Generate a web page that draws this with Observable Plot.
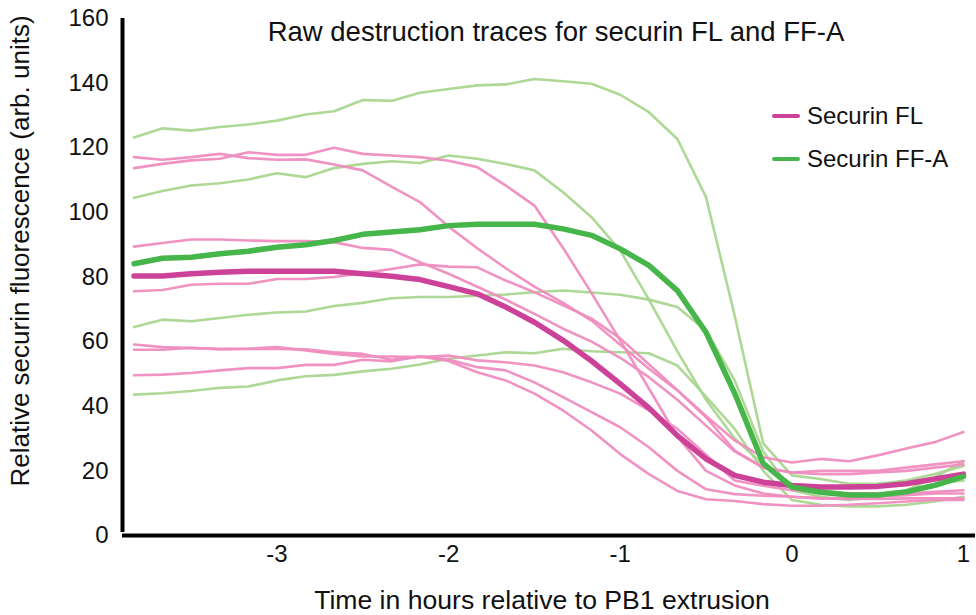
<!DOCTYPE html>
<html>
<head>
<meta charset="utf-8">
<script src="https://cdn.jsdelivr.net/npm/d3@7"></script>
<script src="https://cdn.jsdelivr.net/npm/@observablehq/plot@0.6"></script>
<style>
  html, body { margin: 0; padding: 0; background: #fff; }
  #wrap { position: relative; width: 976px; height: 615px; font-family: "Liberation Sans", Arial, sans-serif; }
  #legend { position: absolute; left: 772px; top: 94px; font-size: 24px; color: #111; }
  .item { display: flex; align-items: center; height: 43px; }
  .swatch { width: 28px; height: 4px; border-radius: 2px; margin-right: 7px; }
</style>
</head>
<body>
<div id="wrap"></div>
<script>
// Time in hours relative to PB1 extrusion (10-minute frames)
const time = [-3.833,-3.667,-3.5,-3.333,-3.167,-3,-2.833,-2.667,-2.5,-2.333,-2.167,-2,-1.833,-1.667,-1.5,-1.333,-1.167,-1,-0.833,-0.667,-0.5,-0.333,-0.167,0,0.167,0.333,0.5,0.667,0.833,1];

// Securin FL individual traces
const fl1 = [117.1,116.3,117.1,118.1,116.8,116.3,116.4,114.8,113,108,103.2,95.6,88.9,82.7,77,72,66.5,59,51.6,44.9,36.6,26.3,21,19.5,19,19,19.5,20,21,22];
const fl2 = [113.7,115,116.1,116.6,118.6,117.8,117.8,120,118.1,117.6,117.1,116,114,108.3,102.1,89,75,60.4,45.5,30.6,20,15.5,13,12,11.5,11.5,12,12.5,13,13];
const fl3 = [89.4,90.5,91.6,91.6,91.3,91.1,91.1,90.8,89,88.4,84.6,81,77,73,68.6,64,60,55,49,42,34,26,21,19.5,20,20,20,21,22,23];
const fl4 = [75.6,76,77.6,77.9,77.9,79.4,79.4,80,81.2,82.5,83.9,83.2,83,78.9,75.3,71.2,67.1,61,53,45,37,29.4,24.2,22.6,23.7,23,24.8,26.9,28.9,32];
const fl5 = [59.1,58.3,58,57.8,57.8,58.3,57.3,56.2,55.4,55.4,55.2,55.7,54.2,53.6,52.6,50.5,47.4,43.9,38.7,33,25,17,15.4,14,13.5,13,13,13,13.5,14];
const fl6 = [57.5,57.5,58.1,57.6,57.7,57.7,57.6,56.7,56.2,54.4,55.4,54.5,52.1,51.1,47.4,42.8,38.2,33.5,27.3,20,14.3,12.8,12.3,12,11.5,11.3,11.3,11.5,11.5,11.5];
const fl7 = [49.6,49.8,50.3,51.1,51.8,51.8,52.8,52.8,54.4,53.9,55.4,54,50.5,48,43.9,38.7,32.5,25.2,19,13.8,11.2,10.7,9.7,9.2,9.2,9.5,10,10.5,11,11];
const flMean = [80.3,80.3,81,81.5,81.8,81.8,81.8,81.8,81,80.2,79.2,77,74.8,70.7,66,60.4,54,46.9,39.5,30.9,23.7,18.6,16.5,15.5,15,15,15.2,16,17.5,19];

// Securin FF-A individual traces
const ff1 = [123.2,126,125.3,126.4,127.2,128.4,130.3,131.3,134.8,134.5,137,138.2,139.3,139.6,141.3,140.6,139.8,136.4,131,122.7,104.7,68,28.5,18.6,17.5,16,16,17,19,21.5];
const ff2 = [104.5,106.6,108.3,109,110.2,112.1,110.9,113.7,115,115.8,115.3,117.6,116.6,115,113,106.2,98.5,88.2,73,57,42,30,22,16,14,13,13,14,16,17];
const ff3 = [64.5,66.8,66.3,67.3,68.3,69,69.3,71,72,73.4,73.8,73.8,74.2,74.6,75.3,75.8,75.2,74.5,73,70.7,63.4,48,26,14,12,11,12,14,18,23];
const ff4 = [43.6,44,44.7,45.7,46.1,48,49.3,49.7,50.8,51.6,52.9,54.7,55.7,56.7,56.4,57.8,57,56.7,56.4,52.6,43,33,20,11,9.5,9,9,9.5,10.5,12];
const ffMean = [84.1,85.8,86.1,87.2,88,89.2,90,91.3,93.2,93.9,94.6,95.9,96.3,96.3,96.3,94.9,92.9,88.7,83.6,75.8,62.9,44,22.3,15,13.4,12.5,12.5,13.5,15.5,18.3];

const xTicks = [-3, -2, -1, 0, 1];
const yTicks = [0, 20, 40, 60, 80, 100, 120, 140, 160];
const xDomain = [-3.9, 1.07];
const yDomain = [0, 160];

const titleText = "Raw destruction traces for securin FL and FF-A";
const xLabel = "Time in hours relative to PB1 extrusion";
const yLabel = "Relative securin fluorescence (arb. units)";
const seriesNames = ["Securin FL", "Securin FF-A"];

const colors = {flThin: "#ef8dc0", ffThin: "#a9d68f", flMean: "#cc4298", ffMean: "#46b54a"};

const toRows = (vals) => time.map((t, i) => ({t, v: vals[i]}));
const flThin = [fl1, fl2, fl3, fl4, fl5, fl6, fl7];
const ffThin = [ff1, ff2, ff3, ff4];

const marks = [];
ffThin.forEach(s => marks.push(Plot.line(toRows(s), {x: "t", y: "v", stroke: colors.ffThin, strokeWidth: 2.6, strokeOpacity: 0.95})));
flThin.forEach(s => marks.push(Plot.line(toRows(s), {x: "t", y: "v", stroke: colors.flThin, strokeWidth: 2.6, strokeOpacity: 0.95})));
marks.push(Plot.line(toRows(flMean), {x: "t", y: "v", stroke: colors.flMean, strokeWidth: 5.5}));
marks.push(Plot.line(toRows(ffMean), {x: "t", y: "v", stroke: colors.ffMean, strokeWidth: 5.5}));

marks.push(Plot.axisY({ticks: yTicks, tickSize: 0, tickPadding: 14, fontSize: 24, label: null}));
marks.push(Plot.axisX({ticks: xTicks, tickSize: 0, tickPadding: 9, fontSize: 24, label: null, tickFormat: d => String(d)}));
marks.push(Plot.ruleY([yDomain[0]], {stroke: "#000", strokeWidth: 4}));
marks.push(Plot.ruleX([xDomain[0]], {stroke: "#000", strokeWidth: 4, y1: yDomain[0], y2: yDomain[1], insetTop: -3}));
marks.push(Plot.text([titleText], {frameAnchor: "top", text: d => d, lineAnchor: "middle", dx: 7, dy: 14, fontSize: 27.5, fill: "#111"}));
marks.push(Plot.text([xLabel], {frameAnchor: "bottom", text: d => d, lineAnchor: "middle", dx: -7, dy: 65, fontSize: 26.6, fill: "#111"}));
marks.push(Plot.text([yLabel], {frameAnchor: "left", text: d => d, textAnchor: "middle", lineAnchor: "middle", dx: -102, dy: -26, rotate: -90, fontSize: 26, fill: "#111"}));

const chart = Plot.plot({
  width: 976,
  height: 615,
  marginLeft: 122,
  marginRight: 1,
  marginTop: 18,
  marginBottom: 80,
  x: {domain: xDomain},
  y: {domain: yDomain},
  style: {fontFamily: "'Liberation Sans', Arial, sans-serif", color: "#111", background: "#fff", overflow: "visible"},
  marks
});

const wrap = document.getElementById("wrap");
wrap.appendChild(chart);
const legend = document.createElement("div");
legend.id = "legend";
[[seriesNames[0], colors.flMean], [seriesNames[1], colors.ffMean]].forEach(([name, c]) => {
  const it = document.createElement("div");
  it.className = "item";
  const sw = document.createElement("span");
  sw.className = "swatch";
  sw.style.background = c;
  const tx = document.createElement("span");
  tx.textContent = name;
  it.appendChild(sw); it.appendChild(tx);
  legend.appendChild(it);
});
wrap.appendChild(legend);
</script>
</body>
</html>
